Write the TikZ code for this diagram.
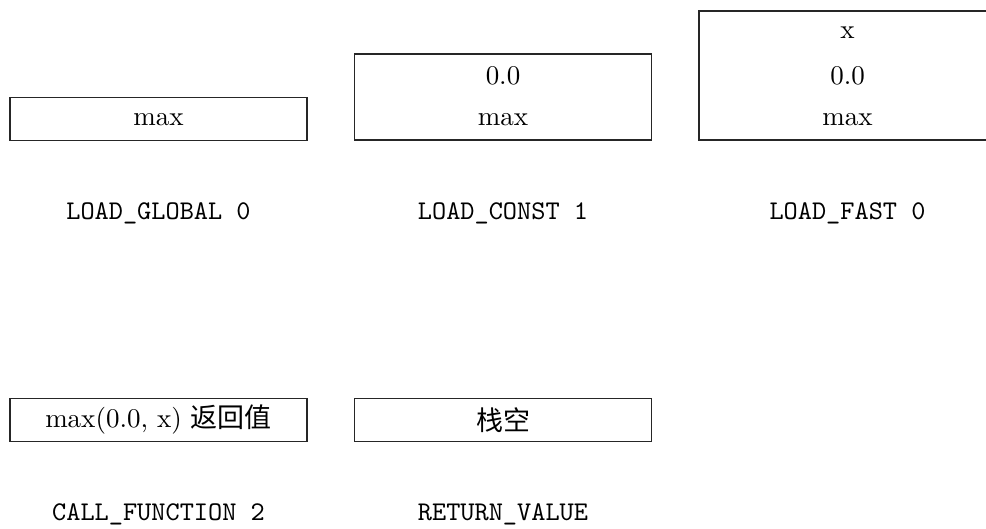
\documentclass[tikz,border=0pt]{standalone}
\usepackage{fontspec}
\newfontfamily\cjk{Noto Sans CJK SC}
\begin{document}
\begin{tikzpicture}[x=0.3704pt,y=-0.3704pt,
  stackbox/.style={draw=black!85, line width=0.4pt, rectangle, inner sep=0pt,
    minimum width=110pt},
  cell/.style={inner sep=0pt, font=\fontsize{10}{12}\selectfont},
  oplabel/.style={font=\ttfamily, inner sep=0pt}]
\useasboundingbox (0,0) rectangle (986,529);
\clip (0,0) rectangle (986,529);
% stack frames
\node[stackbox, minimum height=15.93pt] (s1) at (158.5,119) {};
\node[stackbox, minimum height=31.85pt] (s2) at (503,97) {};
\node[stackbox, minimum height=47.78pt] (s3) at (847.5,75.5) {};
\node[stackbox, minimum height=15.93pt] (s4) at (158.5,420) {};
\node[stackbox, minimum height=15.93pt] (s5) at (503,420) {};
% cells
\node[cell] (c1a) at (158.5,119.5) {max};
\node[cell] (c2a) at (503,76) {0.0};
\node[cell] (c2b) at (503,119.5) {max};
\node[cell] (c3a) at (847.5,33) {x};
\node[cell] (c3b) at (847.5,76) {0.0};
\node[cell] (c3c) at (847.5,119.5) {max};
\node[cell] (c4a) at (158.5,420) {max(0.0, x) {\cjk 返回值}};
\node[cell] (c5a) at (503,420) {{\cjk 栈空}};
% operation labels
\node[oplabel] (l1) at (158.5,213) {LOAD\_GLOBAL 0};
\node[oplabel] (l2) at (503,213) {LOAD\_CONST 1};
\node[oplabel] (l3) at (847.5,213) {LOAD\_FAST 0};
\node[oplabel] (l4) at (158.5,514) {CALL\_FUNCTION 2};
\node[oplabel] (l5) at (503,514) {RETURN\_VALUE};
\end{tikzpicture}
\end{document}
